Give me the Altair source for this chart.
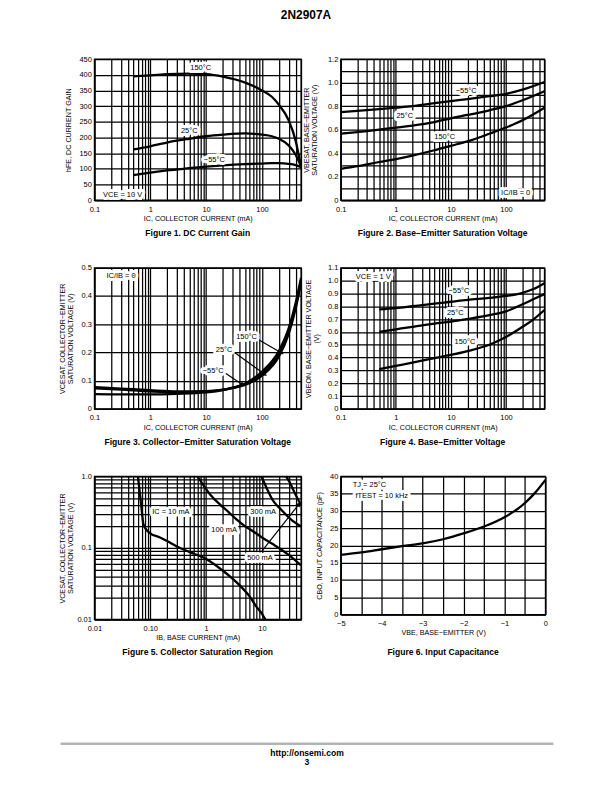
import altair as alt
import pandas as pd

FONT = "Liberation Sans"

# ---------------- Figure 1: DC current gain ----------------
f1_ic = [0.5, 1, 2, 5, 10, 20, 50, 100, 150, 200, 300, 400, 500]
f1_150 = [395, 398, 402, 404, 402, 394, 375, 350, 330, 305, 255, 190, 105]
f1_25 = [162, 172, 184, 196, 204, 209, 213, 209, 204, 196, 175, 145, 108]
f1_m55 = [80, 88, 95, 102, 107, 111, 115, 117, 118, 118, 116, 112, 105]
f1_lab_t = ["150°C", "25°C", "−55°C", "VCE = 10 V"]
f1_lab_x = [8, 5, 14, 0.32]
f1_lab_y = [422, 222, 128, 18]

# ---------------- Figure 2: base-emitter saturation voltage ----------------
f2_ic = [0.1, 0.2, 0.5, 1, 2, 5, 10, 20, 50, 100, 200, 500]
f2_m55 = [0.75, 0.76, 0.775, 0.787, 0.80, 0.825, 0.843, 0.86, 0.885, 0.905, 0.94, 1.005]
f2_25 = [0.567, 0.58, 0.60, 0.618, 0.635, 0.665, 0.697, 0.725, 0.765, 0.80, 0.85, 0.927]
f2_150 = [0.267, 0.29, 0.325, 0.35, 0.38, 0.425, 0.463, 0.50, 0.565, 0.618, 0.68, 0.787]
f2_lab_t = ["−55°C", "25°C", "150°C", "IC/IB = 0"]
f2_lab_x = [19, 1.45, 7.7, 150]
f2_lab_y = [0.93, 0.716, 0.54, 0.06]

# ---------------- Figure 3: collector-emitter saturation voltage ----------------
f3_ic = [0.1, 0.3, 1, 3, 10, 20, 30, 50, 100, 200, 300, 400, 500]
f3_m55 = [0.077, 0.072, 0.066, 0.062, 0.063, 0.068, 0.074, 0.085, 0.118, 0.185, 0.265, 0.355, 0.445]
f3_25 = [0.073, 0.068, 0.062, 0.059, 0.061, 0.067, 0.074, 0.087, 0.124, 0.195, 0.275, 0.365, 0.455]
f3_150 = [0.052, 0.051, 0.051, 0.053, 0.058, 0.066, 0.075, 0.09, 0.132, 0.205, 0.285, 0.375, 0.465]
f3_lab_t = ["150°C", "25°C", "−55°C", "IC/IB = 0"]
f3_lab_x = [53, 21, 13.4, 0.3]
f3_lab_y = [0.256, 0.21, 0.134, 0.47]
f3_arr_x = [92, 30.5, 21.6]
f3_arr_y = [0.242, 0.203, 0.128]
f3_arr_x2 = [225, 113, 45]
f3_arr_y2 = [0.198, 0.122, 0.085]

# ---------------- Figure 4: base-emitter voltage ----------------
f4_ic = [0.5, 1, 2, 5, 10, 20, 50, 100, 200, 300, 500]
f4_m55 = [0.775, 0.785, 0.80, 0.82, 0.835, 0.85, 0.865, 0.88, 0.905, 0.93, 0.98]
f4_25 = [0.60, 0.62, 0.64, 0.665, 0.68, 0.70, 0.73, 0.76, 0.815, 0.85, 0.895]
f4_150 = [0.31, 0.335, 0.36, 0.395, 0.42, 0.45, 0.50, 0.56, 0.64, 0.69, 0.77]
f4_lab_t = ["−55°C", "25°C", "150°C", "VCE = 1 V"]
f4_lab_x = [14, 12, 18, 0.39]
f4_lab_y = [0.92, 0.75, 0.52, 1.03]

# ---------------- Figure 5: collector saturation region ----------------
f5_10_ib = [0.06, 0.065, 0.07, 0.075, 0.085, 0.1, 0.15, 0.2, 0.3, 0.5, 1, 2, 3, 4, 6, 8, 10, 11.5]
f5_10_v = [1.0, 0.6, 0.35, 0.22, 0.18, 0.16, 0.14, 0.125, 0.105, 0.088, 0.07, 0.048, 0.037, 0.03, 0.021, 0.015, 0.012, 0.01]
f5_100_ib = [0.7, 0.9, 1.2, 1.8, 2.5, 3.5, 5, 7, 10, 15, 20, 30, 50]
f5_100_v = [1.0, 0.75, 0.55, 0.4, 0.32, 0.25, 0.2, 0.17, 0.14, 0.115, 0.1, 0.08, 0.057]
f5_300_ib = [9.8, 12, 16, 20, 26, 35, 50]
f5_300_v = [1.0, 0.7, 0.45, 0.37, 0.3, 0.24, 0.2]
f5_500_ib = [27, 32, 38, 44, 50]
f5_500_v = [1.0, 0.8, 0.6, 0.48, 0.4]
f5_lab_t = ["IC = 10 mA", "100 mA", "300 mA", "500 mA"]
f5_lab_x = [0.234, 2.1, 10.5, 9.2]
f5_lab_y = [0.32, 0.178, 0.32, 0.073]
f5_arr_x = [9.8]
f5_arr_y = [0.089]
f5_arr_x2 = [46]
f5_arr_y2 = [0.41]

# ---------------- Figure 6: input capacitance ----------------
f6_vbe = [-5, -4.5, -4, -3.5, -3, -2.5, -2, -1.5, -1, -0.75, -0.5, -0.25, 0]
f6_cbo = [17.3, 18.0, 18.9, 19.8, 20.6, 21.8, 23.5, 25.5, 28.2, 30.0, 32.3, 35.3, 39.0]
f6_lab_t = ["TJ = 25°C", "fTEST = 10 kHz"]
f6_lab_x = [-4.3, -4.0]
f6_lab_y = [37.4, 34.4]

# ---------------- tick values ----------------
def log_grid(lo_e, hi):
    out = []
    for e in range(lo_e, 4):
        for m in range(1, 10):
            v = round(m * 10.0 ** e, 10)
            if v <= hi + 1e-9:
                out.append(v)
    return out

ic_grid = log_grid(-1, 500)
ic_lab_v = [0.1, 1, 10, 100]
ic_lab_t = ["0.1", "1", "10", "100"]
ib_grid = log_grid(-2, 50)
ib_lab_v = [0.01, 0.1, 1, 10]
ib_lab_t = ["0.01", "0.10", "1", "10"]
v5_grid = log_grid(-2, 1)
v5_lab_v = [0.01, 0.1, 1]
v5_lab_t = ["0.01", "0.1", "1.0"]
f1_y_grid = list(range(0, 451, 50))
f2_y_grid = [round(i * 0.1, 10) for i in range(13)]
f2_y_lab_v = [0, 0.2, 0.4, 0.6, 0.8, 1.0, 1.2]
f2_y_lab_t = ["0", "0.2", "0.4", "0.6", "0.8", "1.0", "1.2"]
f3_y_grid = [round(i * 0.1, 10) for i in range(6)]
f3_y_lab_t = ["0", "0.1", "0.2", "0.3", "0.4", "0.5"]
f4_y_grid = [round(i * 0.1, 10) for i in range(12)]
f4_y_lab_t = ["0", "0.1", "0.2", "0.3", "0.4", "0.5", "0.6", "0.7", "0.8", "0.9", "1.0", "1.1"]
f6_x_grid = [i / 2 for i in range(-10, 1)]
f6_x_lab_v = [-5, -4, -3, -2, -1, 0]
f6_x_lab_t = ["−5", "−4", "−3", "−2", "−1", "0"]
f6_y_grid = list(range(0, 41, 5))


def lab_expr(vals, txts):
    expr = "''"
    for v, t in reversed(list(zip(vals, txts))):
        expr = f"datum.value == {v!r} ? '{t}' : ({expr})"
    return expr


def axis(title, values, expr=None, extent=None, tpad=3, tlh=8.5, lpad=3):
    kw = dict(
        title=title, values=values, grid=True, ticks=False, tickSize=0,
        labelFont=FONT, titleFont=FONT, labelFontSize=7.5, titleFontSize=7.2,
        labelColor="black", titleColor="black", titleFontWeight="normal",
        gridColor="black", gridWidth=1.25, gridOpacity=1,
        domainColor="black", domainWidth=1.4,
        labelOverlap=False, labelFlush=False, titlePadding=tpad,
        titleLineHeight=tlh, labelPadding=lpad,
    )
    if expr is not None:
        kw["labelExpr"] = expr
    if extent is not None:
        kw["minExtent"] = extent
        kw["maxExtent"] = extent
    return alt.Axis(**kw)


def xaxis(title, values, expr=None):
    return axis(title, values, expr, tpad=2, lpad=5)


def lines_df(x, series):
    rows = []
    for name, ys in series.items():
        xs = x[name] if isinstance(x, dict) else x
        for xv, yv in zip(xs, ys):
            rows.append({"x": xv, "y": yv, "s": name})
    return pd.DataFrame(rows)


class Enc:
    def __init__(self, sx, ax, sy, ay):
        self.sx, self.ax, self.sy, self.ay = sx, ax, sy, ay

    def x(self, f="x:Q"):
        return alt.X(f, scale=self.sx, axis=self.ax)

    def y(self, f="y:Q"):
        return alt.Y(f, scale=self.sy, axis=self.ay)


def labels(df, e, size=7.5):
    base = alt.Chart(df).encode(x=e.x(), y=e.y(), text="t:N")
    halo = base.mark_text(font=FONT, fontSize=size, color="white", stroke="white",
                          strokeWidth=6, strokeJoin="round")
    txt = base.mark_text(font=FONT, fontSize=size, color="black")
    return [halo, txt]


def caption(text, w, h):
    return alt.Chart(pd.DataFrame({"t": [text]})).mark_text(
        font=FONT, fontSize=8.6, fontWeight="bold", color="black").encode(
        x=alt.value(w / 2), y=alt.value(h + 33), text="t:N")


def curve(df, e):
    return alt.Chart(df).mark_line(color="black", strokeWidth=2.3, interpolate="monotone",
                                   clip=True).encode(x=e.x(), y=e.y(), detail="s:N")


def arrows(df, e, angle):
    r = alt.Chart(df).mark_rule(color="black", strokeWidth=1.2).encode(
        x=e.x(), y=e.y(), x2=alt.X2("x2:Q"), y2=alt.Y2("y2:Q"))
    head = alt.Chart(df).mark_point(shape="triangle-right", filled=True, color="black",
                                    size=28, angle=angle, opacity=1).encode(
        x=e.x("x2:Q"), y=e.y("y2:Q"))
    return [r, head]


IC_TITLE = "IC, COLLECTOR CURRENT (mA)"
LW, RW, H = 208, 205, 142


def ic_axis():
    return xaxis(IC_TITLE, ic_grid, lab_expr(ic_lab_v, ic_lab_t))


def ic_scale():
    return alt.Scale(type="log", domain=[0.1, 500], nice=False)


# ---------- panel 1 ----------
e1 = Enc(ic_scale(), ic_axis(), alt.Scale(domain=[0, 450], nice=False),
         axis("hFE, DC CURRENT GAIN", f1_y_grid, extent=19, tpad=3))
d1 = lines_df(f1_ic, {"150": f1_150, "25": f1_25, "-55": f1_m55})
l1 = pd.DataFrame({"x": f1_lab_x, "y": f1_lab_y, "t": f1_lab_t})

one = pd.DataFrame({"t": ["2N2907A"]})
frame_rule = alt.Chart(one).mark_rule(color="white", strokeWidth=1).encode(
    x=alt.value(-93), x2=alt.value(519), y=alt.value(-55.5))
page_title = alt.Chart(one).mark_text(font=FONT, fontSize=12, fontWeight="bold",
                                      color="black").encode(
    x=alt.value(213), y=alt.value(-44), text="t:N")
foot_rule = alt.Chart(one).mark_rule(color="#b4b4b4", strokeWidth=2.5).encode(
    x=alt.value(-34), x2=alt.value(462), y=alt.value(689))
foot_url = alt.Chart(pd.DataFrame({"t": ["http://onsemi.com"]})).mark_text(
    font=FONT, fontSize=8.6, fontWeight="bold", color="black").encode(
    x=alt.value(214), y=alt.value(698.5), text="t:N")
foot_pg = alt.Chart(pd.DataFrame({"t": ["3"]})).mark_text(
    font=FONT, fontSize=8.6, fontWeight="bold", color="black").encode(
    x=alt.value(214), y=alt.value(707.5), text="t:N")

p1 = alt.layer(curve(d1, e1), *labels(l1, e1), caption("Figure 1. DC Current Gain", LW, H),
               frame_rule, page_title, foot_rule, foot_url, foot_pg).properties(
    width=LW, height=H)

# ---------- panel 2 ----------
e2 = Enc(ic_scale(), ic_axis(), alt.Scale(domain=[0, 1.2], nice=False),
         axis(["VBESAT, BASE−EMITTER", "SATURATION VOLTAGE (V)"], f2_y_grid,
              lab_expr(f2_y_lab_v, f2_y_lab_t), extent=19, tpad=3))
d2 = lines_df(f2_ic, {"-55": f2_m55, "25": f2_25, "150": f2_150})
l2 = pd.DataFrame({"x": f2_lab_x, "y": f2_lab_y, "t": f2_lab_t})
p2 = alt.layer(curve(d2, e2), *labels(l2, e2),
               caption("Figure 2. Base−Emitter Saturation Voltage", RW, H)).properties(
    width=RW, height=H)

# ---------- panel 3 ----------
e3 = Enc(ic_scale(), ic_axis(), alt.Scale(domain=[0, 0.5], nice=False),
         axis(["VCESAT, COLLECTOR−EMITTER", "SATURATION VOLTAGE (V)"], f3_y_grid,
              lab_expr(f3_y_grid, f3_y_lab_t), extent=17, tpad=3))
d3 = lines_df(f3_ic, {"-55": f3_m55, "25": f3_25, "150": f3_150})
l3 = pd.DataFrame({"x": f3_lab_x, "y": f3_lab_y, "t": f3_lab_t})
a3 = pd.DataFrame({"x": f3_arr_x, "y": f3_arr_y, "x2": f3_arr_x2, "y2": f3_arr_y2})
p3 = alt.layer(curve(d3, e3), *arrows(a3, e3, 32), *labels(l3, e3),
               caption("Figure 3. Collector−Emitter Saturation Voltage", LW, H)).properties(
    width=LW, height=H)

# ---------- panel 4 ----------
e4 = Enc(ic_scale(), ic_axis(), alt.Scale(domain=[0, 1.1], nice=False),
         axis(["VBEON, BASE−EMITTER VOLTAGE", "(V)"], f4_y_grid,
              lab_expr(f4_y_grid, f4_y_lab_t), extent=17, tpad=3))
d4 = lines_df(f4_ic, {"-55": f4_m55, "25": f4_25, "150": f4_150})
l4 = pd.DataFrame({"x": f4_lab_x, "y": f4_lab_y, "t": f4_lab_t})
p4 = alt.layer(curve(d4, e4), *labels(l4, e4),
               caption("Figure 4. Base−Emitter Voltage", RW, H)).properties(
    width=RW, height=H)

# ---------- panel 5 ----------
e5 = Enc(alt.Scale(type="log", domain=[0.01, 50], nice=False),
         xaxis("IB, BASE CURRENT (mA)", ib_grid, lab_expr(ib_lab_v, ib_lab_t)),
         alt.Scale(type="log", domain=[0.01, 1], nice=False),
         axis(["VCESAT, COLLECTOR−EMITTER", "SATURATION VOLTAGE (V)"], v5_grid,
              lab_expr(v5_lab_v, v5_lab_t), extent=17, tpad=3))
d5 = lines_df({"10": f5_10_ib, "100": f5_100_ib, "300": f5_300_ib, "500": f5_500_ib},
              {"10": f5_10_v, "100": f5_100_v, "300": f5_300_v, "500": f5_500_v})
l5 = pd.DataFrame({"x": f5_lab_x, "y": f5_lab_y, "t": f5_lab_t})
a5 = pd.DataFrame({"x": f5_arr_x, "y": f5_arr_y, "x2": f5_arr_x2, "y2": f5_arr_y2})
p5 = alt.layer(curve(d5, e5), *arrows(a5, e5, 309), *labels(l5, e5),
               caption("Figure 5. Collector Saturation Region", LW, 144)).properties(
    width=LW, height=144)

# ---------- panel 6 ----------
e6 = Enc(alt.Scale(domain=[-5, 0], nice=False),
         xaxis("VBE, BASE−EMITTER (V)", f6_x_grid, lab_expr(f6_x_lab_v, f6_x_lab_t)),
         alt.Scale(domain=[0, 40], nice=False),
         axis("CBO, INPUT CAPACITANCE (pF)", f6_y_grid, extent=14, tpad=3))
d6 = lines_df(f6_vbe, {"c": f6_cbo})
l6 = pd.DataFrame({"x": f6_lab_x, "y": f6_lab_y, "t": f6_lab_t})
p6 = alt.layer(curve(d6, e6), *labels(l6, e6),
               caption("Figure 6. Input Capacitance", 206, 144)).properties(
    width=206, height=139)

chart = alt.concat(p1, p2, p3, p4, p5, p6, columns=2,
                   spacing={"row": 68, "column": 40}, bounds="flush").properties(
    padding=0, background="white"
).configure_view(stroke="black", strokeWidth=1.4)

chart.save("out.html", embed_options={"renderer": "svg", "actions": False})
